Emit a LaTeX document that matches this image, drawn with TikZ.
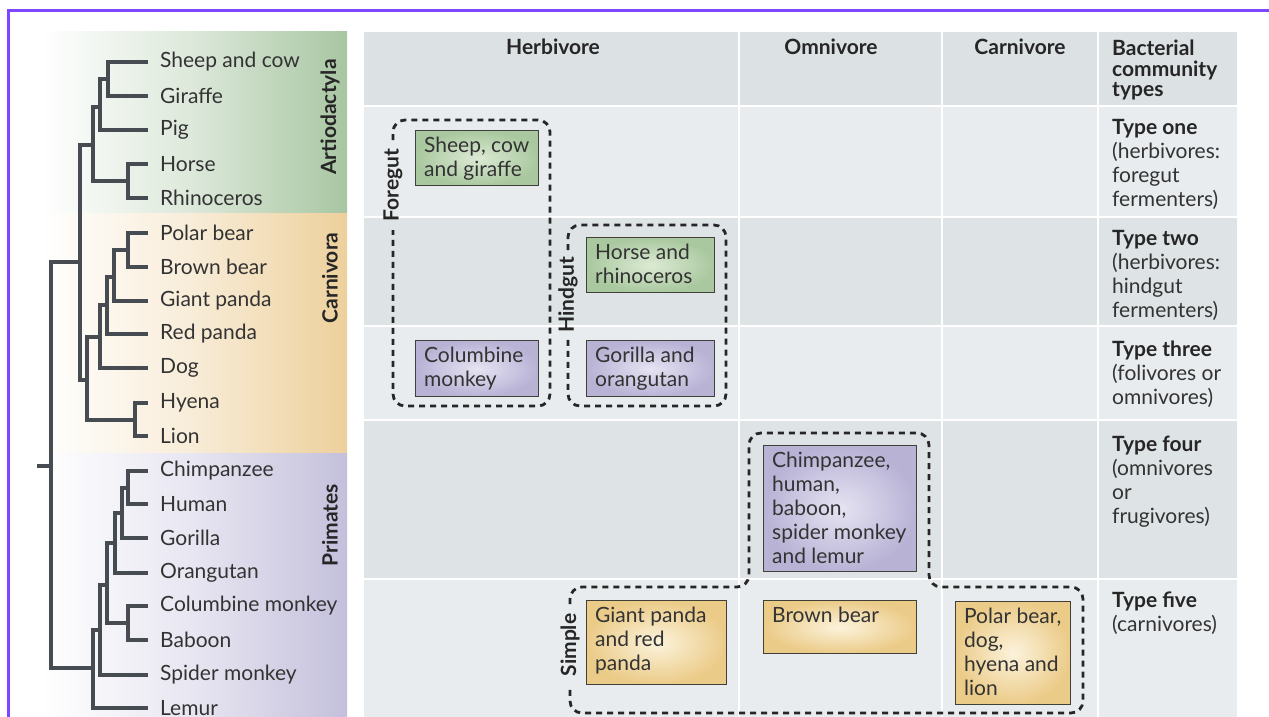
\documentclass[tikz,border=0pt]{standalone}
\usepackage{fontspec}
\setmainfont{Lato}
\definecolor{treeline}{HTML}{474B52}
\definecolor{framecol}{HTML}{7F45FF}
\definecolor{txt}{HTML}{262626}
\definecolor{leaftxt}{HTML}{333333}
\definecolor{rowhead}{HTML}{DCE1E3}
\definecolor{rowlight}{HTML}{E8ECEE}
\definecolor{rowdark}{HTML}{DEE3E5}
\definecolor{artcol}{HTML}{A8C6A2}
\definecolor{carcol}{HTML}{EDD09C}
\definecolor{pricol}{HTML}{C4C0DC}
\definecolor{gout}{HTML}{A9C89F}
\definecolor{gin}{HTML}{DCEAD4}
\definecolor{pout}{HTML}{B8B2D5}
\definecolor{pin}{HTML}{E6E3F2}
\definecolor{oout}{HTML}{EBCB88}
\definecolor{oin}{HTML}{FCF3DC}
\definecolor{boxborder}{HTML}{404038}
\newcommand\boxtxt[3]{\parbox[c][#2][t]{#1}{#3}}
\begin{document}
\begin{tikzpicture}[x=1pt,y=-1pt,
  leaf/.style={anchor=west,inner xsep=12pt,inner ysep=1pt,font=\fontsize{21pt}{24pt}\selectfont,text=leaftxt},
  branch/.style={draw=treeline,line width=4pt},
  clade/.style={rotate=90,font=\bfseries\fontsize{21pt}{24pt}\selectfont,text=txt},
  hdr/.style={font=\bfseries\fontsize{21pt}{24pt}\selectfont,text=txt},
  typetxt/.style={anchor=north west,inner sep=0pt,align=left,font=\fontsize{21pt}{24pt}\selectfont,text=leaftxt},
  box/.style={draw=boxborder,line width=1.3pt,anchor=north west,inner xsep=8.5pt,inner ysep=6pt,font=\fontsize{21pt}{24pt}\selectfont,text=leaftxt},
  gbox/.style={box,inner color=gin,outer color=gout},
  pbox/.style={box,inner color=pin,outer color=pout},
  obox/.style={box,inner color=oin,outer color=oout},
  grp/.style={draw=black!85,line width=2.8pt,dash pattern=on 6pt off 5pt,rounded corners=12pt},
  grplabel/.style={rotate=90,font=\bfseries\fontsize{21pt}{24pt}\selectfont,text=txt,inner sep=0pt}
]
\useasboundingbox (0,0) rectangle (1269,717);
\fill[white] (0,0) rectangle (1269,717);
% frame
\draw[framecol,line width=3pt] (8,717) -- (8,11) -- (1269,11);
% tree panel bands
\shade[left color=white,right color=artcol,middle color=artcol!40] (40,32) rectangle (347,213);
\shade[left color=white,right color=carcol,middle color=carcol!40] (40,213) rectangle (347,453);
\shade[left color=white,right color=pricol,middle color=pricol!40] (40,453) rectangle (347,717);
\node[clade] (art) at (330,117) {Artiodactyla};
\node[clade] (car) at (330,278) {Carnivora};
\node[clade] (pri) at (330,525) {Primates};
% leaves
\node[leaf] (lf1) at (148,62) {Sheep and cow};
\node[leaf] (lf2) at (148,96) {Giraffe};
\node[leaf] (lf3) at (148,130) {Pig};
\node[leaf] (lf4) at (148,164) {Horse};
\node[leaf] (lf5) at (148,198) {Rhinoceros};
\node[leaf] (lf6) at (148,233) {Polar bear};
\node[leaf] (lf7) at (148,267) {Brown bear};
\node[leaf] (lf8) at (148,301) {Giant panda};
\node[leaf] (lf9) at (148,334) {Red panda};
\node[leaf] (lf10) at (148,368) {Dog};
\node[leaf] (lf11) at (148,403) {Hyena};
\node[leaf] (lf12) at (148,436) {Lion};
\node[leaf] (lf13) at (148,471) {Chimpanzee};
\node[leaf] (lf14) at (148,504) {Human};
\node[leaf] (lf15) at (148,538) {Gorilla};
\node[leaf] (lf16) at (148,573) {Orangutan};
\node[leaf] (lf17) at (148,606) {Columbine monkey};
\node[leaf] (lf18) at (148,640) {Baboon};
\node[leaf] (lf19) at (148,675) {Spider monkey};
\node[leaf] (lf20) at (148,708) {Lemur};
% internal nodes
\coordinate (sg) at (108,79);
\coordinate (sgp) at (100,107);
\coordinate (hr) at (128,181);
\coordinate (artn) at (93,145);
\coordinate (bears) at (128,250);
\coordinate (gp) at (114,277);
\coordinate (rp) at (107,305);
\coordinate (dg) at (100,337);
\coordinate (hl) at (135,420);
\coordinate (carn) at (87,380);
\coordinate (laur) at (80,262);
\coordinate (ch) at (128,488);
\coordinate (go) at (122,513);
\coordinate (orang) at (115,543);
\coordinate (cb) at (128,623);
\coordinate (ape) at (107,585);
\coordinate (spm) at (100,630);
\coordinate (prim) at (93,668);
\coordinate (root) at (51,466);
\coordinate (stub) at (37,466);
\path[branch]
  (sg) |- (lf1.west) (sg) |- (lf2.west)
  (sgp) |- (sg) (sgp) |- (lf3.west)
  (hr) |- (lf4.west) (hr) |- (lf5.west)
  (artn) |- (sgp) (artn) |- (hr)
  (bears) |- (lf6.west) (bears) |- (lf7.west)
  (gp) |- (bears) (gp) |- (lf8.west)
  (rp) |- (gp) (rp) |- (lf9.west)
  (dg) |- (rp) (dg) |- (lf10.west)
  (hl) |- (lf11.west) (hl) |- (lf12.west)
  (carn) |- (dg) (carn) |- (hl)
  (laur) |- (artn) (laur) |- (carn)
  (ch) |- (lf13.west) (ch) |- (lf14.west)
  (go) |- (ch) (go) |- (lf15.west)
  (orang) |- (go) (orang) |- (lf16.west)
  (cb) |- (lf17.west) (cb) |- (lf18.west)
  (ape) |- (orang) (ape) |- (cb)
  (spm) |- (ape) (spm) |- (lf19.west)
  (prim) |- (spm) (prim) |- (lf20.west)
  (root) |- (laur) (root) |- (prim)
  (stub) -- (root);
% table
\fill[rowhead] (364,32) rectangle (1237,106);
\fill[rowlight] (364,106) rectangle (1237,217);
\fill[rowdark] (364,217) rectangle (1237,326);
\fill[rowlight] (364,326) rectangle (1237,420);
\fill[rowdark] (364,420) rectangle (1237,579);
\fill[rowlight] (364,579) rectangle (1237,717);
\foreach \xx in {739,942,1098} \draw[white,line width=2pt] (\xx,32) -- (\xx,717);
\foreach \yy in {106,217,326,420,579} \draw[white,line width=2pt] (364,\yy) -- (1237,\yy);
\node[hdr] (hherb) at (553,47) {Herbivore};
\node[hdr] (homni) at (831,47) {Omnivore};
\node[hdr] (hcarn) at (1020,47) {Carnivore};
\node[typetxt,font=\bfseries\fontsize{21pt}{20.5pt}\selectfont,text=txt] (hbact) at (1112,40) {Bacterial\\community\\types};
\node[typetxt] (t1) at (1112,119.5) {\textbf{\color{txt}Type one}\\(herbivores:\\foregut\\fermenters)};
\node[typetxt] (t2) at (1112,230.5) {\textbf{\color{txt}Type two}\\(herbivores:\\hindgut\\fermenters)};
\node[typetxt] (t3) at (1112,340.5) {\textbf{\color{txt}Type three}\\(folivores or\\omnivores)};
\node[typetxt] (t4) at (1112,435.5) {\textbf{\color{txt}Type four}\\(omnivores\\or\\frugivores)};
\node[typetxt] (t5) at (1112,591.5) {\textbf{\color{txt}Type five}\\(carnivores)};
% groups
\path[grp] (393,140) -- (393,120) -- (550,120) -- (550,406) -- (393,406) -- (393,230);
\node[grplabel] (fore) at (393,185) {Foregut};
\path[grp] (568,250) -- (568,225) -- (726,225) -- (726,406) -- (568,406) -- (568,338);
\node[grplabel] (hind) at (568,295) {Hindgut};
\path[grp] (570,604) -- (570,587) -- (749,587) -- (749,433) -- (929,433) -- (929,587) -- (1083,587) -- (1083,713) -- (570,713) -- (570,688);
\node[grplabel] (simp) at (570,645) {Simple};
% boxes
\node[gbox] (b1) at (415,130) {\boxtxt{106pt}{43pt}{Sheep, cow\\and giraffe}};
\node[pbox] (b2) at (415,340) {\boxtxt{106pt}{44pt}{Columbine\\monkey}};
\node[gbox] (b3) at (586,237) {\boxtxt{111pt}{43pt}{Horse and\\rhinoceros}};
\node[pbox] (b4) at (586,340) {\boxtxt{111pt}{44pt}{Gorilla and\\orangutan}};
\node[pbox] (b5) at (763,445) {\boxtxt{136pt}{114pt}{Chimpanzee,\\human,\\baboon,\\spider monkey\\and lemur}};
\node[obox] (b6) at (586,600) {\boxtxt{123pt}{72pt}{Giant panda\\and red\\panda}};
\node[obox] (b7) at (763,600) {\boxtxt{136pt}{41pt}{Brown bear}};
\node[obox] (b8) at (955,601) {\boxtxt{98pt}{91pt}{Polar bear,\\dog,\\hyena and\\lion}};
\end{tikzpicture}
\end{document}
